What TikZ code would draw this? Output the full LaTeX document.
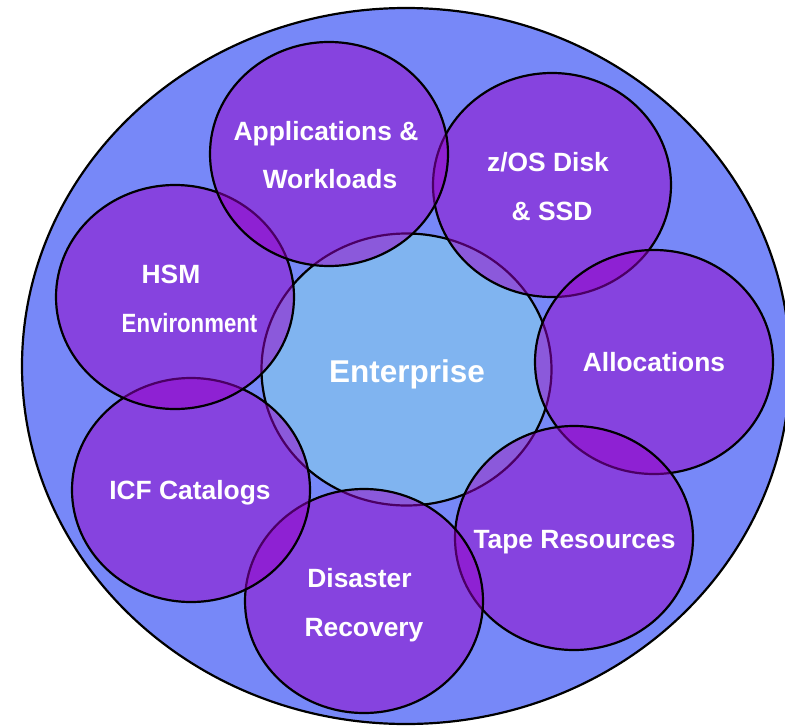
\documentclass[tikz,border=0pt]{standalone}
\usepackage{fontspec}
\setmainfont{Liberation Sans}
\usetikzlibrary{shapes.geometric}
\definecolor{outerblue}{RGB}{119,136,248}
\definecolor{coreblue}{RGB}{128,180,240}
\definecolor{petal}{RGB}{150,0,200}
\begin{document}
\begin{tikzpicture}[x=1pt,y=-1pt,
  bigshape/.style={ellipse, draw=black, line width=2.2pt, inner sep=0pt},
  petalshape/.style={ellipse, draw=black, line width=2.2pt, fill=petal, fill opacity=0.5, draw opacity=1, minimum width=238pt, minimum height=224pt, inner sep=0pt},
  lbl/.style={text=white, font=\fontsize{26.4}{30}\selectfont\bfseries, anchor=base, inner sep=0pt},
]
\useasboundingbox (0,0) rectangle (785,726);
\node[bigshape, fill=outerblue, minimum width=768pt, minimum height=716pt] (outer) at (406,366) {};
\node[bigshape, fill=coreblue, minimum width=290pt, minimum height=272pt] (core) at (406.5,369.5) {};
\node[petalshape] (zos) at (552,185) {};
\node[petalshape] (alloc) at (654,362) {};
\node[petalshape] (tape) at (574,538) {};
\node[petalshape] (disaster) at (364,601) {};
\node[petalshape] (icf) at (191,490) {};
\node[petalshape] (hsm) at (175,297) {};
\node[petalshape] (apps) at (329,154) {};
\node[lbl] (apps1) at (326,140) {Applications \&};
\node[lbl] (apps2) at (330,188) {Workloads};
\node[lbl] (zos1) at (548,171) {z/OS Disk};
\node[lbl] (zos2) at (552,220) {\& SSD};
\node[lbl] (hsm1) at (171,283) {HSM};
\node[lbl] (hsm2) at (189.5,332) {\scalebox{0.84}[1]{Environment}};
\node[lbl] (alloc1) at (654,371) {Allocations};
\node[lbl] (icf1) at (190,499) {ICF Catalogs};
\node[lbl] (tape1) at (574.5,548) {Tape Resources};
\node[lbl] (dis1) at (359.5,587) {Disaster};
\node[lbl] (dis2) at (364,636) {Recovery};
\node[lbl, font=\fontsize{31.5}{36}\selectfont\bfseries] (ent) at (407,382) {Enterprise};
\end{tikzpicture}
\end{document}
